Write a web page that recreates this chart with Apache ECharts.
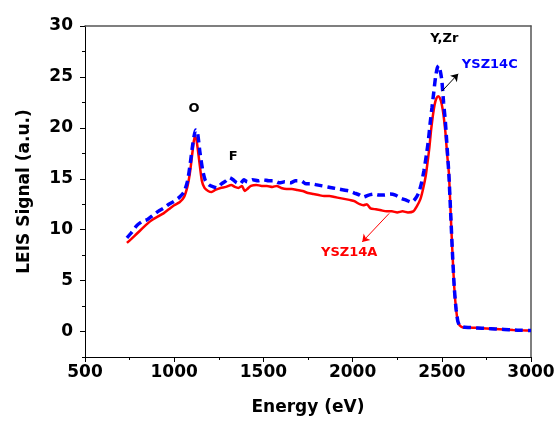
<!DOCTYPE html>
<html>
<head>
<meta charset="utf-8">
<script src="https://cdn.jsdelivr.net/npm/echarts@6/dist/echarts.min.js"></script>
<style>html,body{margin:0;padding:0;background:#fff}#c{width:556px;height:422px}</style>
</head>
<body>
<div id="c"></div>
<script>
// YSZ14A (red, solid): energy (eV) and signal (a.u.)
var energyA = [735,760,790,820,850,880,910,940,970,1000,1030,1055,1075,1090,1105,1115,1125,1140,1155,1170,1190,1210,1230,1260,1290,1320,1340,1360,1380,1395,1410,1430,1460,1490,1520,1550,1575,1600,1630,1660,1690,1720,1750,1780,1810,1840,1870,1900,1930,1960,1990,2010,2040,2060,2080,2100,2130,2160,2190,2220,2250,2280,2310,2340,2360,2380,2395,2410,2420,2430,2440,2450,2460,2470,2480,2490,2500,2510,2520,2530,2540,2550,2560,2570,2580,2590,2600,2620,2650,2700,2750,2800,2850,2900,2950,3000];
var signalA = [8.7,9.1,9.6,10.1,10.6,11.0,11.3,11.6,12.0,12.4,12.7,13.2,14.3,15.8,18.0,19.2,18.8,16.8,14.8,14.1,13.8,13.7,13.9,14.1,14.2,14.4,14.2,14.1,14.3,13.8,14.0,14.3,14.4,14.3,14.3,14.2,14.3,14.1,14.0,14.0,13.9,13.8,13.6,13.5,13.4,13.3,13.3,13.2,13.1,13.0,12.9,12.8,12.5,12.4,12.5,12.1,12.0,11.9,11.8,11.8,11.7,11.8,11.7,11.8,12.3,13.0,14.0,15.3,16.6,18.0,19.8,21.2,22.3,22.9,23.1,22.9,22.3,21.2,19.6,17.4,15.5,11.5,7.6,4.3,2.2,1.0,0.6,0.4,0.4,0.35,0.3,0.25,0.2,0.15,0.12,0.1];
// YSZ14C (blue, dashed)
var energyC = [735,760,790,820,850,880,910,940,970,1000,1030,1055,1075,1090,1105,1120,1130,1145,1160,1175,1195,1220,1240,1265,1290,1310,1330,1350,1370,1390,1410,1440,1470,1500,1530,1560,1590,1620,1650,1680,1710,1740,1770,1800,1830,1860,1890,1920,1950,1980,2010,2040,2060,2090,2120,2150,2180,2210,2240,2270,2300,2330,2350,2370,2385,2400,2415,2425,2435,2445,2455,2465,2475,2482,2490,2500,2510,2520,2530,2540,2550,2560,2570,2580,2590,2600,2620,2650,2700,2750,2800,2850,2900,2950,3000];
var signalC = [9.2,9.7,10.4,10.8,11.0,11.4,11.8,12.1,12.5,12.8,13.2,13.7,14.8,16.5,18.5,19.8,19.6,17.5,15.8,14.8,14.4,14.2,14.1,14.5,14.8,15.1,14.9,14.6,14.5,14.9,14.7,14.9,14.8,14.9,14.8,14.8,14.6,14.7,14.6,14.8,14.8,14.5,14.5,14.4,14.3,14.2,14.1,14.0,13.9,13.8,13.6,13.4,13.2,13.4,13.5,13.4,13.4,13.5,13.4,13.1,12.9,12.7,13.0,13.6,14.5,15.8,17.5,18.8,20.5,22.0,23.5,25.0,25.9,26.1,25.7,24.7,22.5,20.6,18.0,15.3,11.5,7.6,4.3,2.2,1.0,0.6,0.45,0.4,0.35,0.3,0.25,0.2,0.15,0.12,0.1];
// axis ticks
var xTicks = [500,1000,1500,2000,2500,3000];
var yTicks = [0,5,10,15,20,25,30];
var yMinorTicks = [-2.5,2.5,7.5,12.5,17.5,22.5,27.5];
// annotations [energy, signal, text, colour]
var notes = [[1111,21.9,'O','#000'],[1330,17.2,'F','#000'],[2514,28.8,'Y,Zr','#000'],[2769,26.2,'YSZ14C','#0000ff'],[1981,7.7,'YSZ14A','#ff0000']];
// arrows [fromE, fromV, toE, toV, colour]
var arrows = [[2501,23.6,2592,25.3,'#000'],[2205,11.6,2054,8.8,'#ff0000']];

function pairs(xs, ys){ return xs.map(function(x,i){ return [x, ys[i]]; }); }
var FONT = '"DejaVu Sans", sans-serif';
var chart = echarts.init(document.getElementById('c'), null, {renderer:'canvas'});
chart.setOption({
  animation: false,
  backgroundColor: '#fff',
  grid: {left: 85, right: 25, top: 26, bottom: 65, containLabel: false, outerBoundsMode: 'none'},
  xAxis: [{
    type: 'value', min: 500, max: 3000, interval: 500,
    name: 'Energy (eV)', nameLocation: 'middle', nameGap: 42,
    nameTextStyle: {fontFamily: FONT, fontWeight: 'bold', fontSize: 17, color: '#000'},
    axisLine: {show: true, onZero: false, lineStyle: {color: '#000', width: 1}},
    axisTick: {show: true, inside: false, length: 5, lineStyle: {color: '#000'}},
    minorTick: {show: true, splitNumber: 2, length: 3, lineStyle: {color: '#000'}},
    axisLabel: {margin: 7, fontFamily: FONT, fontWeight: 'bold', fontSize: 17, color: '#000', customValues: xTicks,
      formatter: function(v){ return String(v); }},
    splitLine: {show: false}
  },{
    type: 'value', min: 500, max: 3000, position: 'top',
    axisLine: {show: true, onZero: false, lineStyle: {color: '#555', width: 1.5}},
    axisTick: {show: false}, axisLabel: {show: false}, splitLine: {show: false}
  }],
  yAxis: [{
    type: 'value', min: -2.5, max: 30, interval: 2.5,
    name: 'LEIS Signal (a.u.)', nameLocation: 'middle', nameGap: 52,
    nameTextStyle: {fontFamily: FONT, fontWeight: 'bold', fontSize: 17, color: '#000'},
    axisLine: {show: true, onZero: false, lineStyle: {color: '#000', width: 1}},
    axisTick: {show: true, inside: false, length: 5, customValues: yTicks, lineStyle: {color: '#000'}},
    axisLabel: {margin: 12, fontFamily: FONT, fontWeight: 'bold', fontSize: 17, color: '#000', customValues: yTicks,
      formatter: function(v){ return String(v); }},
    splitLine: {show: false}
  },{
    type: 'value', min: -2.5, max: 30, interval: 2.5, position: 'left',
    axisLine: {show: false},
    axisTick: {show: true, inside: false, length: 3, customValues: yMinorTicks, lineStyle: {color: '#000'}},
    axisLabel: {show: false}, splitLine: {show: false}
  },{
    type: 'value', min: -2.5, max: 30, position: 'right',
    axisLine: {show: true, onZero: false, lineStyle: {color: '#555', width: 1.5}},
    axisTick: {show: false}, axisLabel: {show: false}, splitLine: {show: false}
  }],
  series: [{
    name: 'YSZ14A', type: 'line', data: pairs(energyA, signalA),
    showSymbol: false, smooth: 0.2, clip: true,
    lineStyle: {color: '#ff0000', width: 2.5}
  },{
    name: 'YSZ14C', type: 'line', data: pairs(energyC, signalC),
    showSymbol: false, smooth: 0.2, clip: true,
    lineStyle: {color: '#0000ff', width: 3.5, type: [8, 5]}
  },{
    type: 'scatter', symbolSize: 0, silent: true,
    itemStyle: {color: '#000', opacity: 1},
    data: notes.map(function(n){ return {value: [n[0], n[1]], label: {formatter: n[2], color: n[3]}}; }),
    label: {show: true, position: 'inside', fontFamily: FONT, fontWeight: 'bold', fontSize: 13,
      textBorderWidth: 0, textBorderColor: 'transparent', opacity: 1},
    markLine: {
      silent: true, symbol: ['none', 'arrow'], symbolSize: 7, label: {show: false},
      data: arrows.map(function(a){ return [{coord: [a[0], a[1]], lineStyle: {color: a[4], width: 1, type: 'solid'}}, {coord: [a[2], a[3]]}]; })
    }
  }]
});
</script>
</body>
</html>
